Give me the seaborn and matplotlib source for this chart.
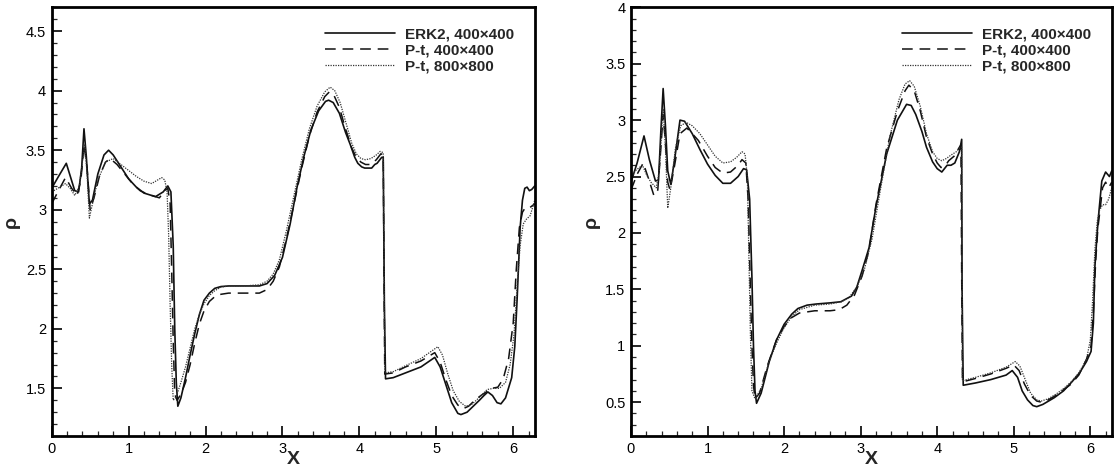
import numpy as np
import pandas as pd
import seaborn as sns
import matplotlib
matplotlib.use("Agg")
import matplotlib.pyplot as plt
from matplotlib.ticker import MultipleLocator

# ---------------- data ----------------
labels = ["ERK2, 400×400", "P-t, 400×400", "P-t, 800×800"]

# Left panel
L_erk_x = [0.0, 0.08, 0.19, 0.30, 0.35, 0.39, 0.42, 0.45, 0.49, 0.53, 0.60, 0.68, 0.74, 0.80, 0.90, 1.00,
           1.10, 1.20, 1.35, 1.45, 1.51, 1.55, 1.58, 1.60, 1.62, 1.64, 1.68, 1.74, 1.80, 1.86, 1.92, 1.98,
           2.05, 2.12, 2.20, 2.30, 2.50, 2.70, 2.80, 2.90, 3.00, 3.10, 3.19, 3.28, 3.37, 3.47, 3.56, 3.60,
           3.66, 3.74, 3.82, 3.88, 3.94, 3.98, 4.03, 4.07, 4.12, 4.16, 4.20, 4.23, 4.29, 4.31, 4.325, 4.34,
           4.44, 4.60, 4.80, 4.98, 5.05, 5.12, 5.20, 5.28, 5.32, 5.40, 5.48, 5.56, 5.62, 5.67, 5.73, 5.79,
           5.84, 5.90, 5.98, 6.02, 6.05, 6.09, 6.12, 6.15, 6.18, 6.21, 6.24, 6.28]
L_erk_y = [3.18, 3.27, 3.39, 3.16, 3.15, 3.35, 3.68, 3.45, 3.05, 3.08, 3.30, 3.46, 3.50, 3.46, 3.36, 3.26,
           3.19, 3.14, 3.11, 3.15, 3.20, 3.15, 2.70, 2.00, 1.55, 1.35, 1.42, 1.59, 1.78, 1.96, 2.12, 2.24,
           2.30, 2.34, 2.355, 2.36, 2.36, 2.36, 2.38, 2.45, 2.60, 2.88, 3.19, 3.45, 3.67, 3.83, 3.91, 3.92,
           3.90, 3.81, 3.65, 3.55, 3.44, 3.39, 3.36, 3.35, 3.35, 3.35, 3.38, 3.39, 3.44, 3.44, 2.20, 1.58,
           1.59, 1.63, 1.68, 1.76, 1.68, 1.54, 1.38, 1.29, 1.28, 1.30, 1.35, 1.40, 1.44, 1.47, 1.44, 1.38,
           1.37, 1.42, 1.59, 1.85, 2.24, 2.85, 3.08, 3.18, 3.19, 3.16, 3.17, 3.20]

L_pt4_x = [0.0, 0.08, 0.18, 0.26, 0.33, 0.38, 0.42, 0.46, 0.50, 0.55, 0.62, 0.70, 0.76, 0.85, 0.95, 1.05,
           1.15, 1.25, 1.40, 1.47, 1.51, 1.54, 1.56, 1.58, 1.60, 1.63, 1.68, 1.74, 1.80, 1.86, 1.92, 1.98,
           2.05, 2.12, 2.20, 2.30, 2.50, 2.70, 2.80, 2.88, 2.96, 3.05, 3.15, 3.25, 3.35, 3.45, 3.55, 3.61,
           3.67, 3.74, 3.82, 3.90, 3.96, 4.02, 4.08, 4.15, 4.22, 4.28, 4.31, 4.32, 4.33, 4.44, 4.60, 4.80,
           4.98, 5.05, 5.12, 5.20, 5.28, 5.35, 5.42, 5.50, 5.58, 5.65, 5.72, 5.80, 5.87, 5.94, 6.00, 6.04,
           6.08, 6.12, 6.16, 6.22, 6.28]
L_pt4_y = [3.05, 3.15, 3.27, 3.18, 3.12, 3.25, 3.55, 3.35, 3.00, 3.10, 3.28, 3.40, 3.43, 3.38, 3.30, 3.22,
           3.16, 3.13, 3.10, 3.16, 3.18, 3.05, 2.50, 1.90, 1.45, 1.40, 1.45, 1.55, 1.70, 1.88, 2.04, 2.15,
           2.23, 2.27, 2.29, 2.30, 2.30, 2.30, 2.33, 2.40, 2.52, 2.75, 3.05, 3.35, 3.62, 3.82, 3.95, 3.99,
           3.96, 3.86, 3.68, 3.52, 3.44, 3.40, 3.38, 3.38, 3.42, 3.47, 3.46, 2.50, 1.62, 1.63, 1.68, 1.73,
           1.80, 1.72, 1.58, 1.44, 1.36, 1.33, 1.35, 1.40, 1.44, 1.47, 1.50, 1.51, 1.58, 1.75, 2.05, 2.50,
           2.85, 2.98, 3.02, 3.02, 3.05]

L_pt8_x = [0.0, 0.08, 0.18, 0.24, 0.30, 0.36, 0.43, 0.46, 0.49, 0.53, 0.60, 0.70, 0.80, 0.90, 1.00, 1.10,
           1.20, 1.30, 1.43, 1.47, 1.50, 1.52, 1.54, 1.56, 1.58, 1.62, 1.68, 1.74, 1.80, 1.86, 1.92, 1.98,
           2.05, 2.12, 2.20, 2.30, 2.50, 2.70, 2.80, 2.88, 2.96, 3.05, 3.15, 3.25, 3.35, 3.45, 3.55, 3.62,
           3.68, 3.75, 3.83, 3.90, 3.96, 4.02, 4.08, 4.15, 4.22, 4.27, 4.31, 4.32, 4.33, 4.44, 4.60, 4.80,
           5.02, 5.08, 5.15, 5.22, 5.30, 5.38, 5.45, 5.52, 5.60, 5.66, 5.74, 5.82, 5.90, 5.96, 6.01, 6.05,
           6.09, 6.13, 6.17, 6.22, 6.28]
L_pt8_y = [3.15, 3.18, 3.22, 3.18, 3.12, 3.20, 3.55, 3.30, 2.93, 3.05, 3.25, 3.40, 3.43, 3.38, 3.33, 3.28,
           3.24, 3.22, 3.27, 3.25, 3.15, 2.80, 2.20, 1.70, 1.40, 1.43, 1.55, 1.68, 1.84, 2.00, 2.12, 2.21,
           2.28, 2.32, 2.35, 2.36, 2.36, 2.37, 2.40, 2.46, 2.58, 2.82, 3.12, 3.42, 3.68, 3.87, 3.99, 4.03,
           4.00, 3.90, 3.72, 3.56, 3.47, 3.43, 3.42, 3.43, 3.46, 3.49, 3.48, 2.60, 1.63, 1.64, 1.69, 1.75,
           1.85, 1.78, 1.62, 1.48, 1.39, 1.35, 1.36, 1.40, 1.45, 1.49, 1.50, 1.50, 1.55, 1.70, 1.95, 2.35,
           2.70, 2.88, 2.92, 2.95, 3.08]

# Right panel
R_erk_x = [0.0, 0.08, 0.17, 0.24, 0.32, 0.36, 0.39, 0.42, 0.45, 0.48, 0.52, 0.57, 0.64, 0.70, 0.80, 0.90,
           1.00, 1.10, 1.20, 1.30, 1.40, 1.47, 1.51, 1.55, 1.58, 1.60, 1.62, 1.64, 1.70, 1.81, 1.90, 2.00,
           2.10, 2.18, 2.30, 2.42, 2.60, 2.74, 2.88, 2.95, 3.02, 3.11, 3.20, 3.34, 3.48, 3.60, 3.66, 3.72,
           3.80, 3.86, 3.94, 4.00, 4.06, 4.13, 4.18, 4.23, 4.29, 4.32, 4.325, 4.34, 4.50, 4.70, 4.90, 4.98,
           5.05, 5.11, 5.18, 5.25, 5.30, 5.38, 5.53, 5.65, 5.76, 5.86, 5.95, 6.01, 6.04, 6.06, 6.09, 6.11,
           6.15, 6.20, 6.25, 6.28]
R_erk_y = [2.45, 2.62, 2.86, 2.65, 2.46, 2.47, 2.90, 3.28, 2.95, 2.55, 2.43, 2.65, 3.00, 2.99, 2.88, 2.74,
           2.61, 2.51, 2.44, 2.44, 2.50, 2.57, 2.56, 2.30, 1.60, 1.00, 0.60, 0.49, 0.58, 0.87, 1.05, 1.19,
           1.28, 1.33, 1.36, 1.37, 1.38, 1.39, 1.44, 1.52, 1.67, 1.87, 2.23, 2.70, 3.00, 3.14, 3.13, 3.05,
           2.90, 2.76, 2.63, 2.57, 2.54, 2.60, 2.60, 2.62, 2.72, 2.83, 1.50, 0.65, 0.67, 0.70, 0.74, 0.78,
           0.72, 0.60, 0.52, 0.47, 0.46, 0.48, 0.54, 0.60, 0.68, 0.76, 0.86, 0.95, 1.20, 1.70, 2.00, 2.17,
           2.46, 2.54, 2.50, 2.55]

R_pt4_x = [0.0, 0.08, 0.16, 0.23, 0.30, 0.35, 0.39, 0.42, 0.45, 0.48, 0.51, 0.57, 0.64, 0.73, 0.80, 0.88,
           1.00, 1.10, 1.20, 1.30, 1.40, 1.45, 1.50, 1.53, 1.56, 1.58, 1.60, 1.62, 1.68, 1.78, 1.90, 2.00,
           2.10, 2.20, 2.40, 2.60, 2.72, 2.82, 2.92, 3.02, 3.11, 3.20, 3.34, 3.48, 3.58, 3.63, 3.70, 3.78,
           3.86, 3.94, 4.00, 4.05, 4.10, 4.15, 4.22, 4.29, 4.31, 4.32, 4.33, 4.50, 4.70, 4.90, 5.00, 5.07,
           5.14, 5.22, 5.30, 5.36, 5.45, 5.55, 5.65, 5.75, 5.85, 5.95, 6.01, 6.04, 6.07, 6.10, 6.13, 6.16,
           6.20, 6.24, 6.28]
R_pt4_y = [2.38, 2.52, 2.62, 2.48, 2.33, 2.38, 2.75, 3.05, 2.80, 2.45, 2.38, 2.60, 2.88, 2.93, 2.88, 2.82,
           2.68, 2.58, 2.53, 2.54, 2.60, 2.65, 2.62, 2.30, 1.50, 1.00, 0.65, 0.53, 0.58, 0.82, 1.05, 1.17,
           1.25, 1.29, 1.31, 1.31, 1.32, 1.36, 1.45, 1.62, 1.85, 2.25, 2.75, 3.08, 3.26, 3.31, 3.26, 3.08,
           2.85, 2.70, 2.62, 2.58, 2.59, 2.64, 2.68, 2.76, 2.78, 1.60, 0.68, 0.71, 0.75, 0.80, 0.83, 0.78,
           0.66, 0.56, 0.51, 0.50, 0.52, 0.56, 0.61, 0.66, 0.74, 0.88, 1.00, 1.30, 1.75, 2.05, 2.22, 2.40,
           2.45, 2.40, 2.45]

R_pt8_x = [0.0, 0.07, 0.15, 0.20, 0.26, 0.33, 0.37, 0.40, 0.42, 0.45, 0.48, 0.52, 0.58, 0.65, 0.72, 0.80,
           0.90, 1.00, 1.10, 1.20, 1.30, 1.38, 1.45, 1.49, 1.52, 1.54, 1.56, 1.58, 1.62, 1.70, 1.80, 1.90,
           2.00, 2.10, 2.20, 2.40, 2.60, 2.75, 2.85, 2.95, 3.05, 3.15, 3.25, 3.38, 3.50, 3.58, 3.64, 3.70,
           3.78, 3.86, 3.94, 4.00, 4.06, 4.12, 4.18, 4.25, 4.30, 4.32, 4.33, 4.50, 4.70, 4.90, 5.02, 5.08,
           5.15, 5.22, 5.30, 5.36, 5.45, 5.55, 5.65, 5.75, 5.85, 5.95, 6.00, 6.03, 6.06, 6.09, 6.12, 6.16,
           6.20, 6.24, 6.28]
R_pt8_y = [2.50, 2.56, 2.60, 2.52, 2.45, 2.40, 2.55, 2.90, 3.10, 2.75, 2.22, 2.40, 2.75, 2.95, 2.98, 2.95,
           2.88, 2.78, 2.68, 2.62, 2.63, 2.67, 2.72, 2.70, 2.50, 1.80, 1.10, 0.60, 0.53, 0.62, 0.85, 1.02,
           1.16, 1.26, 1.32, 1.36, 1.37, 1.39, 1.43, 1.52, 1.68, 1.95, 2.35, 2.85, 3.18, 3.32, 3.35, 3.30,
           3.12, 2.88, 2.72, 2.66, 2.64, 2.66, 2.69, 2.72, 2.76, 2.76, 0.69, 0.72, 0.76, 0.81, 0.86, 0.82,
           0.70, 0.58, 0.52, 0.51, 0.53, 0.57, 0.62, 0.68, 0.76, 0.88, 1.05, 1.40, 1.85, 2.10, 2.20, 2.25,
           2.25, 2.30, 2.40]

left_ylim = (1.1, 4.7)
right_ylim = (0.2, 4.0)
xlim = (0.0, 2 * np.pi)

# ---------------- drawing ----------------
sns.set_style("ticks")
plt.rcParams["font.family"] = ["Liberation Sans", "DejaVu Sans"]

fig = plt.figure(figsize=(11.16, 4.75), dpi=100)
axL = fig.add_axes([0.0463, 0.0821, 0.4331, 0.9025])
axR = fig.add_axes([0.5654, 0.0821, 0.4310, 0.9025])

styles = [dict(ls="-", lw=1.2, color="#111111"),
          dict(ls=(0, (7, 4.5)), lw=1.1, color="#111111"),
          dict(ls=(0, (1, 1)), lw=0.9, color="#333333")]

panels = [
    (axL, [(L_erk_x, L_erk_y), (L_pt4_x, L_pt4_y), (L_pt8_x, L_pt8_y)], left_ylim, [1.5, 2, 2.5, 3, 3.5, 4, 4.5]),
    (axR, [(R_erk_x, R_erk_y), (R_pt4_x, R_pt4_y), (R_pt8_x, R_pt8_y)], right_ylim, [0.5, 1, 1.5, 2, 2.5, 3, 3.5, 4]),
]

for ax, series, ylim, yticks in panels:
    for (xs, ys), lab, st in zip(series, labels, styles):
        df = pd.DataFrame({"x": xs, "y": ys})
        sns.lineplot(data=df, x="x", y="y", ax=ax, estimator=None, sort=False,
                     label=lab, linestyle=st["ls"], linewidth=st["lw"], color=st["color"])
    ax.set_xlim(*xlim)
    ax.set_ylim(*ylim)
    ax.set_xticks([0, 1, 2, 3, 4, 5, 6])
    ax.set_xticklabels(["0", "1", "2", "3", "4", "5", "6"])
    ax.set_yticks(yticks)
    ax.set_yticklabels([("%g" % t) for t in yticks])
    ax.xaxis.set_minor_locator(MultipleLocator(0.2))
    ax.yaxis.set_minor_locator(MultipleLocator(0.1))
    ax.tick_params(axis="both", which="major", direction="in", length=7, width=1.2,
                   labelsize=10.5, top=False, right=False, pad=4, colors="black")
    ax.tick_params(axis="both", which="minor", direction="in", length=3.5, width=0.9,
                   top=False, right=False)
    for sp in ax.spines.values():
        sp.set_visible(True)
        sp.set_linewidth(2.0)
        sp.set_color("black")
    ax.set_xlabel("X", fontsize=14, fontweight="bold", labelpad=-3)
    ax.set_ylabel("ρ", fontsize=14, fontweight="bold", labelpad=4)
    leg = ax.legend(loc="upper right", frameon=False, fontsize=11, handlelength=4.6,
                    handletextpad=0.65, labelspacing=0.12, borderaxespad=0.5,
                    bbox_to_anchor=(0.985, 0.985))
    for t in leg.get_texts():
        t.set_fontweight("bold")
    ax.grid(False)

fig.savefig("out.png", dpi=100)
